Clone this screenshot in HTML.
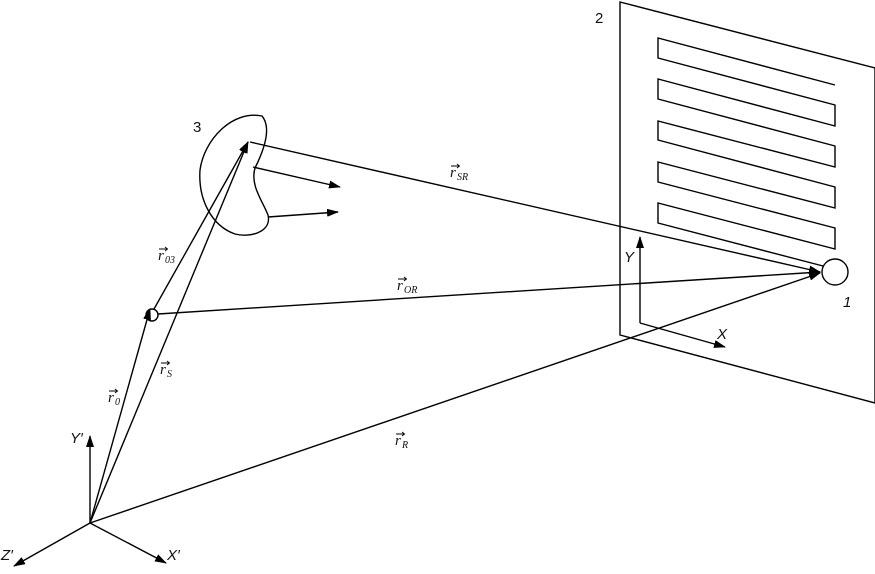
<!DOCTYPE html>
<html><head><style>
body{margin:0;background:#fff}
svg text{font-family:"Liberation Sans",sans-serif;font-size:15px;fill:#111}
.m{font-family:"Liberation Serif",serif;font-style:italic;font-size:15px}
.s{font-family:"Liberation Serif",serif;font-style:italic;font-size:10px}
</style></head><body>
<svg width="875" height="569" viewBox="0 0 875 569" xmlns="http://www.w3.org/2000/svg">
<defs><marker id="a" viewBox="0 0 12 8" refX="11" refY="4" markerWidth="12" markerHeight="8" markerUnits="userSpaceOnUse" orient="auto"><path d="M0,0L12,4L0,8z" fill="#000"/></marker>
<path id="v" d="M0,0 h8 M6,-2 L8.5,0 L6,2" fill="none" stroke="#000" stroke-width="0.9"/></defs>
<g fill="none" stroke="#000" stroke-width="1.4">
<path d="M620,2 L875,68 L875,403 L620,335 Z"/>
<path d="M835,85 L658,38 L658,58 L835,105 L835,126 L658,79 L658,99 L835,146 L835,167 L658,121 L658,140 L835,187 L835,208 L658,162 L658,182 L835,228 L835,249 L658,203 L658,223 L823,266"/>
<circle cx="835" cy="272" r="13"/>
<circle cx="152" cy="315" r="6"/>
<path d="M262,116 C272,128 264,150 255,168 C250,185 262,200 268,215 C272,232 250,238 235,234 C212,226 198,200 200,170 C204,140 232,110 262,116 Z"/>
<g marker-end="url(#a)">
<line x1="640" y1="323" x2="640" y2="237"/>
<line x1="640" y1="323" x2="725" y2="347"/>
<line x1="250" y1="142" x2="820" y2="272"/>
<line x1="158" y1="314" x2="820" y2="272"/>
<line x1="90" y1="523" x2="820" y2="273"/>
<line x1="90" y1="523" x2="90" y2="436"/>
<line x1="90" y1="523" x2="14" y2="566"/>
<line x1="90" y1="523" x2="166" y2="563"/>
<line x1="90" y1="523" x2="150" y2="309"/>
<line x1="90" y1="523" x2="248" y2="142"/>
<line x1="154" y1="309" x2="248" y2="142"/>
<line x1="253" y1="167" x2="340" y2="187"/>
<line x1="268" y1="217" x2="338" y2="212"/>
</g></g>
<text x="193" y="132">3</text>
<text x="595" y="23">2</text>
<text x="843" y="307" font-style="italic">1</text>
<text x="624" y="262" font-style="italic">Y</text>
<text x="717" y="339" font-style="italic">X</text>
<text x="70" y="443" font-style="italic">Y′</text>
<text x="1" y="560" font-style="italic">Z′</text>
<text x="167" y="560" font-style="italic">X′</text>
<text class="m" x="450" y="177">r</text><text class="s" x="457" y="180">SR</text><use href="#v" x="451" y="166"/>
<text class="m" x="397" y="290">r</text><text class="s" x="404" y="293">OR</text><use href="#v" x="398" y="279"/>
<text class="m" x="158" y="260">r</text><text class="s" x="165" y="263">03</text><use href="#v" x="159" y="249"/>
<text class="m" x="160" y="374">r</text><text class="s" x="167" y="377">S</text><use href="#v" x="161" y="363"/>
<text class="m" x="108" y="402">r</text><text class="s" x="115" y="405">0</text><use href="#v" x="109" y="391"/>
<text class="m" x="395" y="445">r</text><text class="s" x="402" y="448">R</text><use href="#v" x="396" y="434"/>
</svg>
</body></html>
